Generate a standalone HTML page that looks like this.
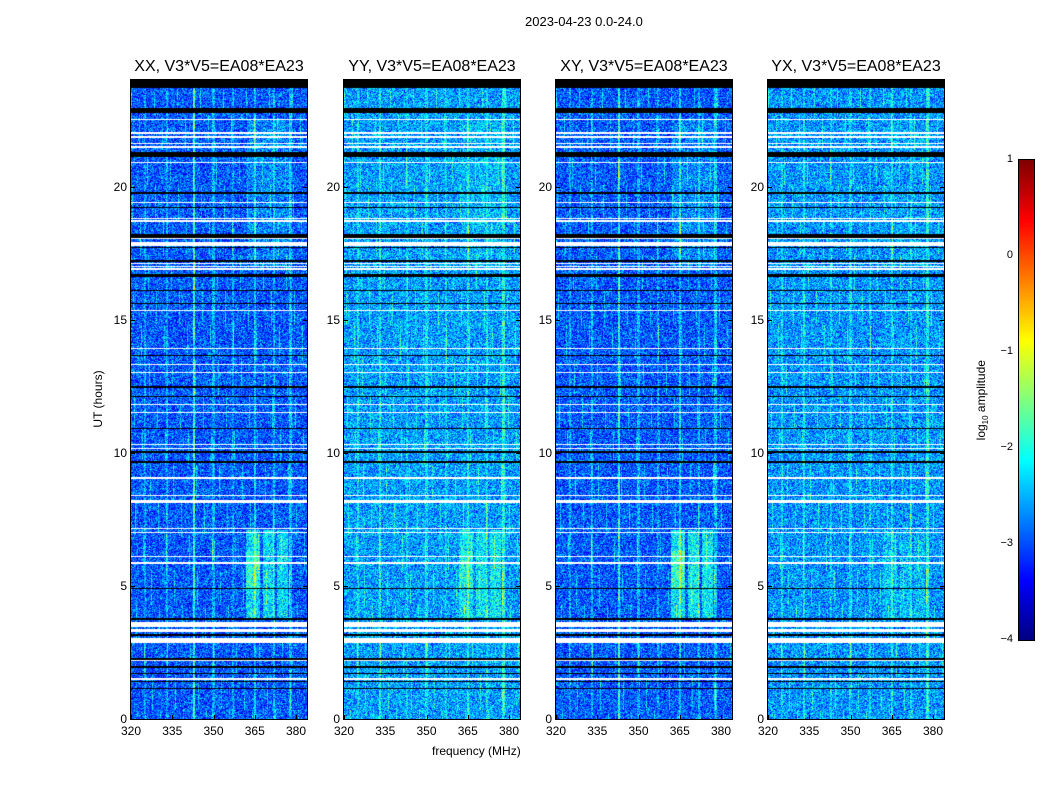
<!DOCTYPE html>
<html><head><meta charset="utf-8">
<style>
body{margin:0;background:#fff;font-family:"Liberation Sans","DejaVu Sans",sans-serif;}
#wrap{position:relative;width:1050px;height:800px;overflow:hidden;background:#fff;}
.t{position:absolute;white-space:nowrap;color:#000;}
canvas{position:absolute;}
.frame{position:absolute;border:1px solid #000;box-sizing:border-box;}
</style></head><body>
<div id="wrap">
<div class="t" style="left:525px;top:14px;font-size:13px;">2023-04-23 0.0-24.0</div>
<div class="t" style="left:432px;top:744px;font-size:12px;">frequency (MHz)</div>
<div class="t" style="left:48px;top:392px;font-size:12px;transform:rotate(-90deg);transform-origin:center;width:100px;text-align:center;">UT (hours)</div>
<canvas id="cb" width="15" height="480" style="left:1019px;top:160px;"></canvas>
<div class="frame" style="left:1018px;top:159px;width:17px;height:482px;"></div>
<div class="t" style="left:932px;top:392px;font-size:12px;transform:rotate(-90deg);width:100px;text-align:center;">log<sub style="font-size:8px">10</sub> amplitude</div>
</div>
<script>
// ---- data ----
const panelTitles = ["XX, V3*V5=EA08*EA23","YY, V3*V5=EA08*EA23","XY, V3*V5=EA08*EA23","YX, V3*V5=EA08*EA23"];
const panelLeft = [131,344,556,768];
const xTicks = [320,335,350,365,380];
const yTicks = [0,5,10,15,20];
const cbTicks = [1,0,-1,-2,-3,-4];
const baseLevel = [-2.95,-2.6,-2.95,-2.65];
const spikeFreqs = [325,333,343,350,357,365,372,378];
const spikeAmp = [
 [0.5,0.6,1.3,0.6,0.5,0.8,0.6,0.7],
 [0.5,0.6,0.4,0.5,0.4,0.6,0.5,0.8],
 [0.5,0.6,1.2,0.6,0.5,0.8,0.6,0.7],
 [0.5,0.6,0.4,0.5,0.4,0.6,0.5,0.8]];
const burstFreqLo = [362,368,373];
const burstFreqHi = [367,372,377];
const burstStart = 3.8, burstEnd = 7.1;
const burstAmp = [0.9,0.55,1.0,0.3];
const flagStart = [23.7,22.75,22.48,21.98,21.84,21.58,21.48,21.43,21.1,20.88,19.73,19.38,19.18,18.78,18.68,18.08,18.02,17.85,17.68,17.78,17.18,17.08,16.98,16.88,16.6,16.08,15.58,15.33,13.88,13.63,13.28,12.98,12.42,12.08,11.78,11.48,10.88,10.28,10.13,9.98,9.63,9.03,8.38,8.18,8.13,7.13,6.98,6.08,5.83,4.88,3.73,3.45,3.27,3.13,2.85,2.23,2.18,1.93,1.68,1.48,1.38,1.13];
const flagEnd   = [24.0,22.95,22.53,22.03,21.89,21.63,21.53,21.48,21.3,20.93,19.78,19.43,19.23,18.83,18.73,18.2,18.07,17.9,17.73,17.83,17.25,17.13,17.03,16.93,16.72,16.13,15.63,15.38,13.93,13.68,13.33,13.03,12.5,12.13,11.83,11.53,10.93,10.33,10.18,10.06,9.68,9.08,8.43,8.23,8.18,7.18,7.03,6.13,5.88,4.93,3.78,3.65,3.37,3.2,3.05,2.28,2.23,1.98,1.73,1.53,1.43,1.18];
const flagBlack = [1,1,0,0,0,0,0,0,1,0,1,0,1,0,0,1,0,0,1,0,1,0,0,0,1,1,1,0,0,1,0,0,1,1,0,0,1,0,0,1,1,0,0,0,0,0,0,0,0,1,1,0,0,1,0,1,0,1,1,0,1,1];

// ---- axes ----
const PW=176, PH=639, TOP=80, F0=320, F1=384, H0=0, H1=24;
function xs(f){return (f-F0)/(F1-F0)*PW;}
function ys(h){return PH-(h-H0)/(H1-H0)*PH;}
function fOf(px){return F0+(px+0.5)/PW*(F1-F0);}
function hOf(py){return H1-(py+0.5)/PH*(H1-H0);}
function jet(v){ // v in [-4,1]
  let t=Math.max(0,Math.min(1,(v+4)/5));
  const c=x=>Math.max(0,Math.min(1,1.5-Math.abs(4*t-x)));
  return [c(3)*255,c(2)*255,c(1)*255];
}
// deterministic texture hash (visual speckle, not data)
function hsh(a,b,c){let x=Math.sin(a*127.1+b*311.7+c*74.7)*43758.5453;return x-Math.floor(x);}
const wrap=document.getElementById('wrap');
function mk(tag,name,inter,style,text){
  const e=document.createElement(tag);
  
  
  e.style.cssText=style; if(text!==undefined)e.textContent=text; wrap.appendChild(e); return e;
}
for(let p=0;p<4;p++){
  const L=panelLeft[p];
  const cv=mk('canvas','spectrogram-'+p,'false','left:'+L+'px;top:'+TOP+'px;');
  cv.width=PW; cv.height=PH;
  const ctx=cv.getContext('2d'); const img=ctx.createImageData(PW,PH);
  for(let y=0;y<PH;y++){
    const h=hOf(y);
    let flag=-1;
    for(let k=0;k<flagStart.length;k++) if(h>=flagStart[k]&&h<=flagEnd[k]){flag=flagBlack[k];}
    for(let x=0;x<PW;x++){
      const i=(y*PW+x)*4; let r,g,b;
      if(flag===1){r=g=b=0;} else if(flag===0){r=g=b=255;}
      else{
        const f=fOf(x);
        let n=(hsh(x,y,p)+hsh(x*1.3,y*0.7,p+5)-1);
        let v=baseLevel[p]+n*0.9;
        for(let s=0;s<spikeFreqs.length;s++){
          const d=Math.abs(f-spikeFreqs[s]);
          if(d<0.4) v+=spikeAmp[p][s]*(0.6+0.4*hsh(s,Math.floor(y/20),p));
        }
        if((x*7+Math.floor(y/35)*13)%23===0) v+=0.6;
        if(h>=burstStart&&h<=burstEnd){
          for(let k=0;k<burstFreqLo.length;k++) if(f>=burstFreqLo[k]&&f<=burstFreqHi[k]) v+=burstAmp[p]*(h>4.9&&h<6.3&&k===0?1.1:0.75);
        }
        if(f>362&&f<378&&h>17&&h<22.5) v+=burstAmp[p]*0.25;
        [r,g,b]=jet(v);
      }
      img.data[i]=r;img.data[i+1]=g;img.data[i+2]=b;img.data[i+3]=255;
    }
  }
  ctx.putImageData(img,0,0);
  mk('div','panel-frame-'+p,'false','position:absolute;left:'+(L-1)+'px;top:'+(TOP-1)+'px;width:'+(PW+2)+'px;height:'+(PH+2)+'px;border:1px solid #000;box-sizing:border-box;');
  mk('div','panel-title-'+p,'false','position:absolute;left:'+(L-20)+'px;width:'+(PW+40)+'px;text-align:center;top:58px;font-size:16px;white-space:nowrap;',panelTitles[p]);
  xTicks.forEach(t=>{
    const X=L+xs(t);
    mk('div','x-tick','false','position:absolute;left:'+X+'px;top:'+(TOP+PH-4)+'px;width:1px;height:4px;background:#000;');
    mk('div','x-tick-label','false','position:absolute;left:'+(X-15)+'px;width:30px;text-align:center;top:'+(TOP+PH+5)+'px;font-size:12px;',String(t));
  });
  yTicks.forEach(t=>{
    const Y=TOP+ys(t);
    mk('div','y-tick','false','position:absolute;left:'+L+'px;top:'+Y+'px;width:4px;height:1px;background:#000;');
    mk('div','y-tick','false','position:absolute;left:'+(L+PW-4)+'px;top:'+Y+'px;width:4px;height:1px;background:#000;');
    mk('div','y-tick-label','false','position:absolute;left:'+(L-34)+'px;width:30px;text-align:right;top:'+(Y-7)+'px;font-size:12px;',String(t));
  });
}
// colorbar
const cb=document.getElementById('cb').getContext('2d');
for(let y=0;y<480;y++){const [r,g,b]=jet(1-y/480*5);cb.fillStyle='rgb('+(r|0)+','+(g|0)+','+(b|0)+')';cb.fillRect(0,y,15,1);}
cbTicks.forEach(t=>{
  const Y=160+(1-t)/5*480;
  mk('div','colorbar-tick-label','false','position:absolute;left:980px;width:33px;text-align:right;top:'+(Y-7)+'px;font-size:11px;',t<0?'\u2212'+(-t):String(t));
});
</script>
</body></html>
